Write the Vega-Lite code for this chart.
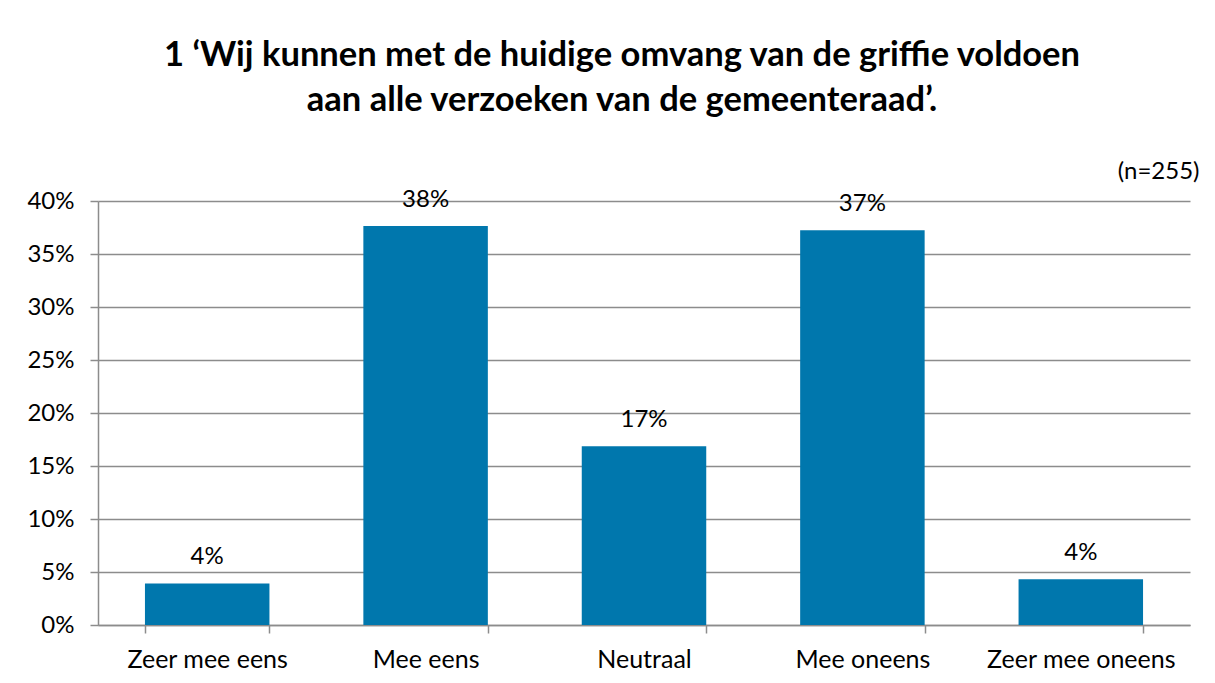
{
  "$schema": "https://vega.github.io/schema/vega-lite/v6.json",
  "width": 1092,
  "height": 424,
  "autosize": {"type": "none"},
  "padding": {"left": 98, "top": 201, "right": 25, "bottom": 58},
  "background": "white",
  "title": {
    "text": ["1 ‘Wij kunnen met de huidige omvang van de griffie voldoen", "aan alle verzoeken van de gemeenteraad’."],
    "font": "Lato",
    "fontSize": 34.5,
    "fontWeight": "bold",
    "color": "#000000",
    "lineHeight": 45,
    "anchor": "middle",
    "frame": "group",
    "dx": -22,
    "offset": 41
  },
  "data": {
    "values": [
      {"antwoord": "Zeer mee eens", "aandeel": 0.0392},
      {"antwoord": "Mee eens", "aandeel": 0.3765},
      {"antwoord": "Neutraal", "aandeel": 0.1686},
      {"antwoord": "Mee oneens", "aandeel": 0.3725},
      {"antwoord": "Zeer mee oneens", "aandeel": 0.0431}
    ]
  },
  "encoding": {
    "x": {
      "field": "antwoord",
      "type": "nominal",
      "sort": null,
      "scale": {"paddingInner": 0.43, "paddingOuter": 0.215},
      "axis": {
        "title": null,
        "labelAngle": 0,
        "labelFont": "Lato",
        "labelFontSize": 25,
        "labelLimit": 0,
        "labelColor": "#000000",
        "labelPadding": 14,
        "tickBand": "extent",
        "tickSize": 8,
        "tickColor": "#8c8c8c",
        "tickWidth": 1.5,
        "domainColor": "#8c8c8c",
        "domainWidth": 1.5,
        "grid": false
      }
    },
    "y": {
      "field": "aandeel",
      "type": "quantitative",
      "scale": {"domain": [0, 0.4], "nice": false},
      "axis": {
        "values": [0, 0.05, 0.1, 0.15, 0.2, 0.25, 0.3, 0.35, 0.4],
        "format": ".0%",
        "labelFont": "Lato",
        "labelFontSize": 24,
        "labelColor": "#000000",
        "labelPadding": 16,
        "tickSize": 8,
        "tickColor": "#8c8c8c",
        "tickWidth": 1.5,
        "domainColor": "#8c8c8c",
        "domainWidth": 1.5,
        "grid": true,
        "gridColor": "#8c8c8c",
        "gridWidth": 1.5,
        "title": "(n=255)",
        "titleFont": "Lato",
        "titleFontSize": 24,
        "titleFontWeight": "normal",
        "titleColor": "#000000",
        "titleAngle": 0,
        "titleAlign": "right",
        "titleBaseline": "bottom",
        "titleX": 1101,
        "titleY": -18
      }
    }
  },
  "layer": [
    {"mark": {"type": "bar", "color": "#0077ad"}},
    {
      "mark": {"type": "text", "font": "Lato", "fontSize": 24, "color": "#000000", "baseline": "bottom", "dy": -14},
      "encoding": {"text": {"field": "aandeel", "type": "quantitative", "format": ".0%"}}
    }
  ],
  "config": {"view": {"stroke": null}}
}
